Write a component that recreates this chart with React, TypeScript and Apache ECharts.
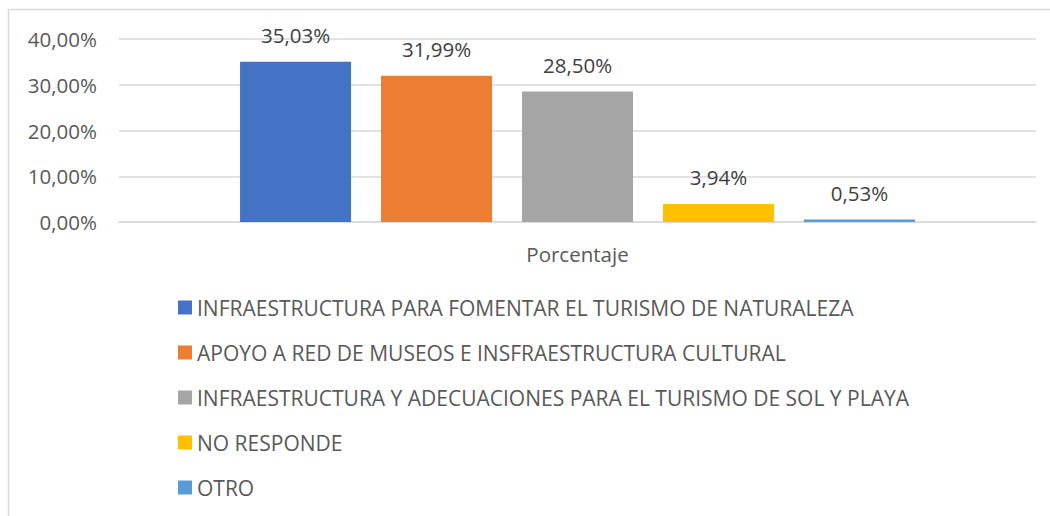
import React, { useEffect, useRef } from "react";
import * as echarts from "echarts";

const categories = ["Porcentaje"];
const seriesNames = [
  "INFRAESTRUCTURA PARA FOMENTAR EL TURISMO DE NATURALEZA",
  "APOYO A RED DE MUSEOS E INSFRAESTRUCTURA CULTURAL",
  "INFRAESTRUCTURA Y ADECUACIONES PARA EL TURISMO DE SOL Y PLAYA",
  "NO RESPONDE",
  "OTRO",
];
const seriesValues = [35.03, 31.99, 28.5, 3.94, 0.53];
const seriesColors = ["#4472C4", "#ED7D31", "#A5A5A5", "#FFC000", "#5B9BD5"];
const yTicks = { min: 0, max: 40, interval: 10 };

const FONT = "'Open Sans', 'Liberation Sans', sans-serif";
const FS = 20.5;
const fmt = (v: number) => v.toFixed(2).replace(".", ",") + "%";

export default function App() {
  const ref = useRef<HTMLDivElement>(null);
  useEffect(() => {
    if (!ref.current) return;
    const chart = echarts.init(ref.current, undefined, { renderer: "svg" });
    chart.setOption({
      animation: false,
      textStyle: { fontFamily: FONT },
      graphic: [
        {
          type: "rect",
          shape: { x: 8.5, y: 9.5, width: 1100, height: 600 },
          style: { fill: "none", stroke: "#d9d9d9", lineWidth: 1.5 },
          silent: true,
        },
      ],
      grid: { left: 119, right: 14, top: 39, bottom: 294, containLabel: false },
      legend: {
        orient: "vertical",
        left: 173,
        top: 292,
        itemWidth: 14,
        itemHeight: 14,
        itemGap: 24,
        icon: "rect",
        textStyle: { color: "#595959", fontSize: 21, fontFamily: FONT },
        data: seriesNames,
      },
      xAxis: {
        type: "category",
        data: categories,
        axisLine: { show: true, lineStyle: { color: "#d9d9d9", width: 1.5 } },
        axisTick: { show: false },
        axisLabel: { color: "#595959", fontSize: FS, margin: 21, fontFamily: FONT },
      },
      yAxis: {
        type: "value",
        min: yTicks.min,
        max: yTicks.max,
        interval: yTicks.interval,
        axisLine: { show: false },
        axisTick: { show: false },
        splitLine: { lineStyle: { color: "#d9d9d9", width: 1.5 } },
        axisLabel: {
          color: "#595959",
          fontSize: FS,
          margin: 22,
          fontFamily: FONT,
          formatter: (v: number) => fmt(v),
        },
      },
      series: seriesNames.map((name, i) => ({
        name,
        type: "bar",
        data: [seriesValues[i]],
        barWidth: 111,
        barGap: "27%",
        itemStyle: { color: seriesColors[i] },
        label: {
          show: true,
          position: "top",
          distance: 16,
          color: "#404040",
          fontSize: FS,
          fontFamily: FONT,
          formatter: (p: any) => fmt(p.value),
        },
      })),
    });
    return () => chart.dispose();
  }, []);
  return (
    <div
      ref={ref}
      style={{ position: "fixed", left: 0, top: 0, width: 1050, height: 516, background: "#fff" }}
    />
  );
}
